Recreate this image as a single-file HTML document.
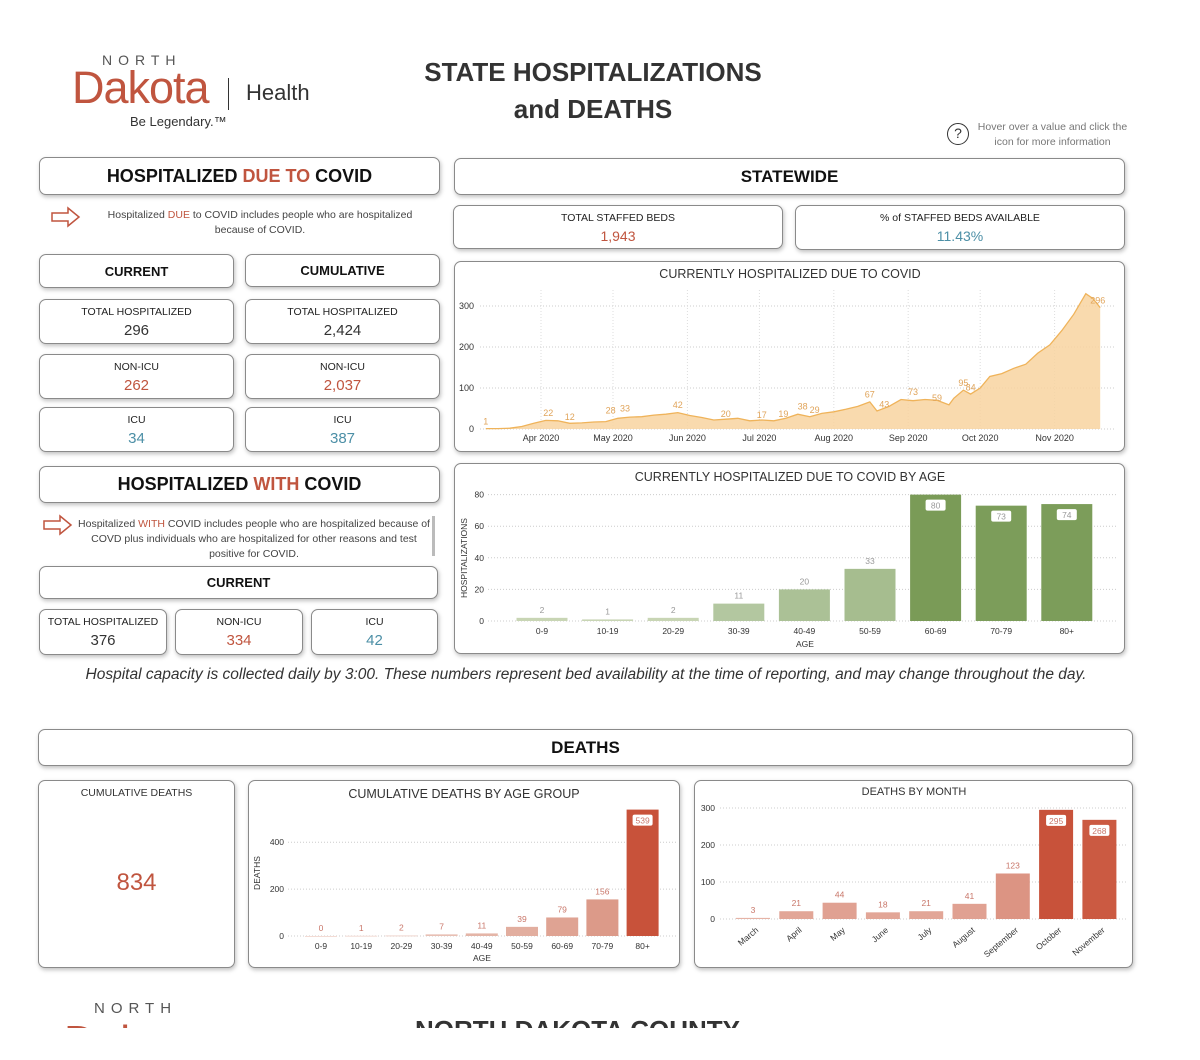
<!DOCTYPE html>
<html><head><meta charset="utf-8">
<style>
*{box-sizing:border-box;margin:0;padding:0}
body{width:1200px;height:1060px;background:#fff;font-family:"Liberation Sans",sans-serif;color:#333;position:relative;overflow:hidden}
.a{position:absolute}
.card{position:absolute;background:#fff;border:1px solid #8a8a8a;border-radius:7px;box-shadow:1px 2px 4px rgba(0,0,0,.25)}
.hdr{display:flex;align-items:center;justify-content:center;font-weight:bold;color:#111}
.kpi{text-align:center;font-size:10.5px;color:#222}
.kpi .lbl{margin-top:6px}
.kpi .v{font-size:15px;margin-top:4px;color:#333}
.red{color:#c0553f!important}.blue{color:#4c8fa6!important}
</style></head><body>
<div class="a" style="left:70px;top:52px;width:240px;height:80px">
 <div class="a" style="left:32px;top:0;font-size:14px;letter-spacing:6px;color:#555">NORTH</div>
 <div class="a" style="left:2px;top:10px;font-size:45px;color:#c0553f;letter-spacing:-1px">Dakota</div>
 <div class="a" style="left:158px;top:26px;width:1px;height:32px;background:#333"></div>
 <div class="a" style="left:176px;top:28px;font-size:22px;color:#333">Health</div>
 <div class="a" style="left:60px;top:62px;font-size:13px;color:#333">Be Legendary.™</div>
</div>
<div class="a" style="left:393px;top:54px;width:400px;text-align:center;font-size:26px;font-weight:bold;line-height:37px;color:#333">STATE HOSPITALIZATIONS<br>and DEATHS</div>
<div class="a" style="left:947px;top:123px;width:22px;height:22px;border:1.5px solid #333;border-radius:50%;text-align:center;font-size:14px;line-height:19px">?</div>
<div class="a" style="left:975px;top:120px;width:155px;text-align:center;font-size:10.5px;color:#777;line-height:15px">Hover over a value and click the icon for more information</div>

<div class="card hdr" style="left:39px;top:157px;width:401px;height:38px;font-size:18px">HOSPITALIZED&nbsp;<span class="red">DUE TO</span>&nbsp;COVID</div>
<svg class="a" style="left:50px;top:206px" width="32" height="22"><path d="M2 7h16V2l11 9-11 9v-5H2z" fill="none" stroke="#c0553f" stroke-width="1.5"/></svg>
<div class="a" style="left:95px;top:208px;width:330px;text-align:center;font-size:10.5px;line-height:15px;color:#444">Hospitalized <span class="red">DUE</span> to COVID includes people who are hospitalized because of COVID.</div>
<div class="card hdr" style="left:39px;top:254px;width:195px;height:34px;font-size:13px">CURRENT</div>
<div class="card hdr" style="left:245px;top:254px;width:195px;height:33px;font-size:13px">CUMULATIVE</div>
<div class="card kpi" style="left:39px;top:299px;width:195px;height:45px"><div class="lbl">TOTAL HOSPITALIZED</div><div class="v">296</div></div>
<div class="card kpi" style="left:245px;top:299px;width:195px;height:45px"><div class="lbl">TOTAL HOSPITALIZED</div><div class="v">2,424</div></div>
<div class="card kpi" style="left:39px;top:354px;width:195px;height:45px"><div class="lbl">NON-ICU</div><div class="v red">262</div></div>
<div class="card kpi" style="left:245px;top:354px;width:195px;height:45px"><div class="lbl">NON-ICU</div><div class="v red">2,037</div></div>
<div class="card kpi" style="left:39px;top:407px;width:195px;height:45px"><div class="lbl">ICU</div><div class="v blue">34</div></div>
<div class="card kpi" style="left:245px;top:407px;width:195px;height:45px"><div class="lbl">ICU</div><div class="v blue">387</div></div>

<div class="card hdr" style="left:39px;top:466px;width:401px;height:37px;font-size:18px">HOSPITALIZED&nbsp;<span class="red">WITH</span>&nbsp;COVID</div>
<svg class="a" style="left:42px;top:514px" width="32" height="22"><path d="M2 7h16V2l11 9-11 9v-5H2z" fill="none" stroke="#c0553f" stroke-width="1.5"/></svg>
<div class="a" style="left:78px;top:517px;width:352px;text-align:center;font-size:10.5px;line-height:15px;color:#444">Hospitalized <span class="red">WITH</span> COVID includes people who are hospitalized because of COVD plus individuals who are hospitalized for other reasons and test positive for COVID.</div>
<div class="a" style="left:432px;top:516px;width:3px;height:40px;background:#bbb"></div>
<div class="card hdr" style="left:39px;top:566px;width:399px;height:33px;font-size:13px">CURRENT</div>
<div class="card kpi" style="left:39px;top:609px;width:128px;height:46px"><div class="lbl">TOTAL HOSPITALIZED</div><div class="v">376</div></div>
<div class="card kpi" style="left:175px;top:609px;width:128px;height:46px"><div class="lbl">NON-ICU</div><div class="v red">334</div></div>
<div class="card kpi" style="left:311px;top:609px;width:127px;height:46px"><div class="lbl">ICU</div><div class="v blue">42</div></div>

<div class="card hdr" style="left:454px;top:158px;width:671px;height:37px;font-size:17px">STATEWIDE</div>
<div class="card kpi" style="left:453px;top:205px;width:330px;height:44px"><div class="lbl">TOTAL STAFFED BEDS</div><div class="v red" style="font-size:14px">1,943</div></div>
<div class="card kpi" style="left:795px;top:205px;width:330px;height:45px"><div class="lbl">% of STAFFED BEDS AVAILABLE</div><div class="v blue" style="font-size:14px">11.43%</div></div>
<div class="card" style="left:454px;top:261px;width:671px;height:191px"></div>
<div class="card" style="left:454px;top:463px;width:671px;height:191px"></div>
<div class="a" style="left:0;top:666px;width:1172px;text-align:center;font-size:15.5px;font-style:italic;color:#333">Hospital capacity is collected daily by 3:00. These numbers represent bed availability at the time of reporting, and may change throughout the day.</div>

<div class="card hdr" style="left:38px;top:729px;width:1095px;height:37px;font-size:17px">DEATHS</div>
<div class="card" style="left:38px;top:780px;width:197px;height:188px;text-align:center">
 <div style="font-size:10.5px;margin-top:6px">CUMULATIVE DEATHS</div>
 <div class="red" style="font-size:24px;margin-top:70px">834</div>
</div>
<div class="card" style="left:248px;top:780px;width:432px;height:188px"></div>
<div class="card" style="left:694px;top:780px;width:439px;height:188px"></div>

<div class="a" style="left:0;top:995px;width:1200px;height:33px;overflow:hidden">
 <div class="a" style="left:94px;top:5px;font-size:15px;letter-spacing:6px;color:#555">NORTH</div>
 <div class="a" style="left:64px;top:22px;font-size:44px;color:#c0553f">Dakota</div>
 <div class="a" style="left:415px;top:20px;font-size:26px;font-weight:bold;color:#333">NORTH DAKOTA COUNTY</div>
</div>

<svg id="charts" class="a" style="left:0;top:0" width="1200" height="1060" font-family="Liberation Sans, sans-serif"></svg>
<script>
// Hospitalized trend (days offset from Apr 1, 2020)
const trendDays=[-23,-18,-13,-8,-3,2,7,12,17,22,27,32,37,42,47,52,57,62,67,72,77,82,87,92,97,102,107,112,117,122,127,132,137,140,145,150,155,160,165,170,172,176,179,183,187,192,197,202,207,212,217,222,227,230,233];
const trendVals=[1,1,2,6,14,21,20,14,15,17,18,26,29,30,34,36,40,33,28,22,24,26,20,22,20,26,36,30,38,42,48,55,66,44,55,72,69,72,70,59,75,95,85,100,128,135,148,158,185,205,240,280,330,318,296];
const trendLabels=[[-23,1],[3,22],[12,12],[29,28],[35,33],[57,42],[77,20],[92,17],[101,19],[109,38],[114,29],[137,67],[143,43],[155,73],[165,59],[176,95],[179,84],[232,296]];
const monthTicks=["Apr 2020","May 2020","Jun 2020","Jul 2020","Aug 2020","Sep 2020","Oct 2020","Nov 2020"];
const monthDays=[0,30,61,91,122,153,183,214];
const trendTicks=[0,100,200,300];
// Age chart
const ageCats=["0-9","10-19","20-29","30-39","40-49","50-59","60-69","70-79","80+"];
const ageVals=[2,1,2,11,20,33,80,73,74];
const ageTicks=[0,20,40,60,80];
// Deaths by age
const dAgeVals=[0,1,2,7,11,39,79,156,539];
const dAgeTicks=[0,200,400];
// Deaths by month
const monCats=["March","April","May","June","July","August","September","October","November"];
const monVals=[3,21,44,18,21,41,123,295,268];
const monTicks=[0,100,200,300];

const svg=document.getElementById('charts');
const NS='http://www.w3.org/2000/svg';
function mk(tag,at,txt){const e=document.createElementNS(NS,tag);for(const k in at)e.setAttribute(k,at[k]);if(txt!==undefined)e.textContent=txt;svg.appendChild(e);return e;}
function grid(x1,x2,y){return mk('line',{x1:x1,x2:x2,y1:y,y2:y,stroke:'#ccc','stroke-dasharray':'1,2'});}

// ---- trend chart
const tx=d=>541+d*2.4, ty=v=>429-v*0.41;
let t=mk('text',{x:790,y:278,'text-anchor':'middle','font-size':12.5,fill:'#333'},'CURRENTLY HOSPITALIZED DUE TO COVID');

trendTicks.forEach(v=>{let g=grid(480,1115,ty(v));
 let l=mk('text',{x:474,y:ty(v)+3,'text-anchor':'end','font-size':9,fill:'#333'},v);});
monthDays.forEach((d,i)=>{let g=mk('line',{x1:tx(d),x2:tx(d),y1:290,y2:429,stroke:'#ddd','stroke-dasharray':'1,2'});
 let l=mk('text',{x:tx(d),y:441,'text-anchor':'middle','font-size':9,fill:'#333'},monthTicks[i]);});
let pts=trendDays.map((d,i)=>tx(d).toFixed(1)+','+ty(trendVals[i]).toFixed(1));
let area=mk('path',{d:'M'+tx(trendDays[0])+','+ty(0)+' L'+pts.join(' L')+' L'+tx(trendDays[trendDays.length-1])+','+ty(0)+'Z',fill:'#f8d3a0',opacity:0.85});

let ln=mk('polyline',{points:pts.join(' '),fill:'none',stroke:'#efb35a','stroke-width':1.3});

trendLabels.forEach(p=>{let l=mk('text',{x:tx(p[0]),y:ty(p[1])-4,'text-anchor':'middle','font-size':9,fill:'#e0a45a'},p[1]);});

// ---- bar chart helper
function bars(o){
 o.ticks.forEach(v=>{let g=grid(o.gx1,o.gx2,o.y(v));
  let l=mk('text',{x:o.tickX,y:o.y(v)+3,'text-anchor':'end','font-size':8.5,fill:'#333'},v);});
 o.vals.forEach((v,i)=>{const cx=o.x0+i*o.step, y=o.y(v), h=o.y(0)-y;
  let r=mk('rect',{x:cx-o.w/2,y:y,width:o.w,height:Math.max(h,0.8),fill:o.col(i,v)});
  if(o.inside(v)){let b=mk('rect',{x:cx-10,y:y+5,width:20,height:11,fill:'#fff',rx:2});
   let l=mk('text',{x:cx,y:y+14,'text-anchor':'middle','font-size':8.5,fill:o.lc},v);}
  else{let l=mk('text',{x:cx,y:y-5,'text-anchor':'middle','font-size':8.5,fill:o.lc},v);}
  if(o.rot){let l=mk('text',{x:cx+6,y:o.y(0)+12,'text-anchor':'end','font-size':8.5,fill:'#333',transform:'rotate(-40 '+(cx+6)+' '+(o.y(0)+12)+')'},o.cats[i]);}
  else{let l=mk('text',{x:cx,y:o.y(0)+13,'text-anchor':'middle','font-size':8.5,fill:'#333'},o.cats[i]);}
 });
}
// age chart
t=mk('text',{x:790,y:481,'text-anchor':'middle','font-size':12.5,fill:'#333'},'CURRENTLY HOSPITALIZED DUE TO COVID BY AGE');
const ageG=['#c8d5b4','#c8d5b4','#c8d5b4','#b3c7a0','#abc196','#a6bd8f','#7a9b57','#7c9d5a','#7c9d5a'];
bars({n:'age',vals:ageVals,cats:ageCats,ticks:ageTicks,y:v=>621-v*1.58,x0:542,step:65.6,w:51,gx1:488,gx2:1118,tickX:484,col:i=>ageG[i],inside:v=>v>=60,lc:'#999'});
t=mk('text',{x:805,y:647,'text-anchor':'middle','font-size':8.5,fill:'#333'},'AGE');
t=mk('text',{x:467,y:558,'text-anchor':'middle','font-size':8.5,fill:'#333',transform:'rotate(-90 467 558)'},'HOSPITALIZATIONS');

// deaths by age
t=mk('text',{x:464,y:798,'text-anchor':'middle','font-size':12.5,fill:'#333'},'CUMULATIVE DEATHS BY AGE GROUP');
const dAgeC=['#f0d2ca','#f0d2ca','#eccbc1','#e8c0b4','#e4b5a7','#e2ae9f','#dfa393','#dc9a89','#c8523a'];
bars({n:'deaths-age',vals:dAgeVals,cats:ageCats,ticks:dAgeTicks,y:v=>936-v*0.2345,x0:321,step:40.2,w:32,gx1:288,gx2:676,tickX:284,col:i=>dAgeC[i],inside:v=>v>=300,lc:'#c9776a'});
t=mk('text',{x:482,y:961,'text-anchor':'middle','font-size':8.5,fill:'#333'},'AGE');
t=mk('text',{x:260,y:873,'text-anchor':'middle','font-size':8.5,fill:'#333',transform:'rotate(-90 260 873)'},'DEATHS');

// deaths by month
t=mk('text',{x:914,y:795,'text-anchor':'middle','font-size':11,fill:'#333'},'DEATHS BY MONTH');
const monC=['#e6b3a6','#e2a697','#e0a192','#e2a697','#e2a697','#e0a192','#dc9483','#c8523a','#cb5a42'];
bars({n:'deaths-month',vals:monVals,cats:monCats,ticks:monTicks,y:v=>919-v*0.37,x0:753,step:43.3,w:34,gx1:720,gx2:1128,tickX:715,col:i=>monC[i],inside:v=>v>=200,lc:'#c9776a',rot:true});
</script>
</body></html>
